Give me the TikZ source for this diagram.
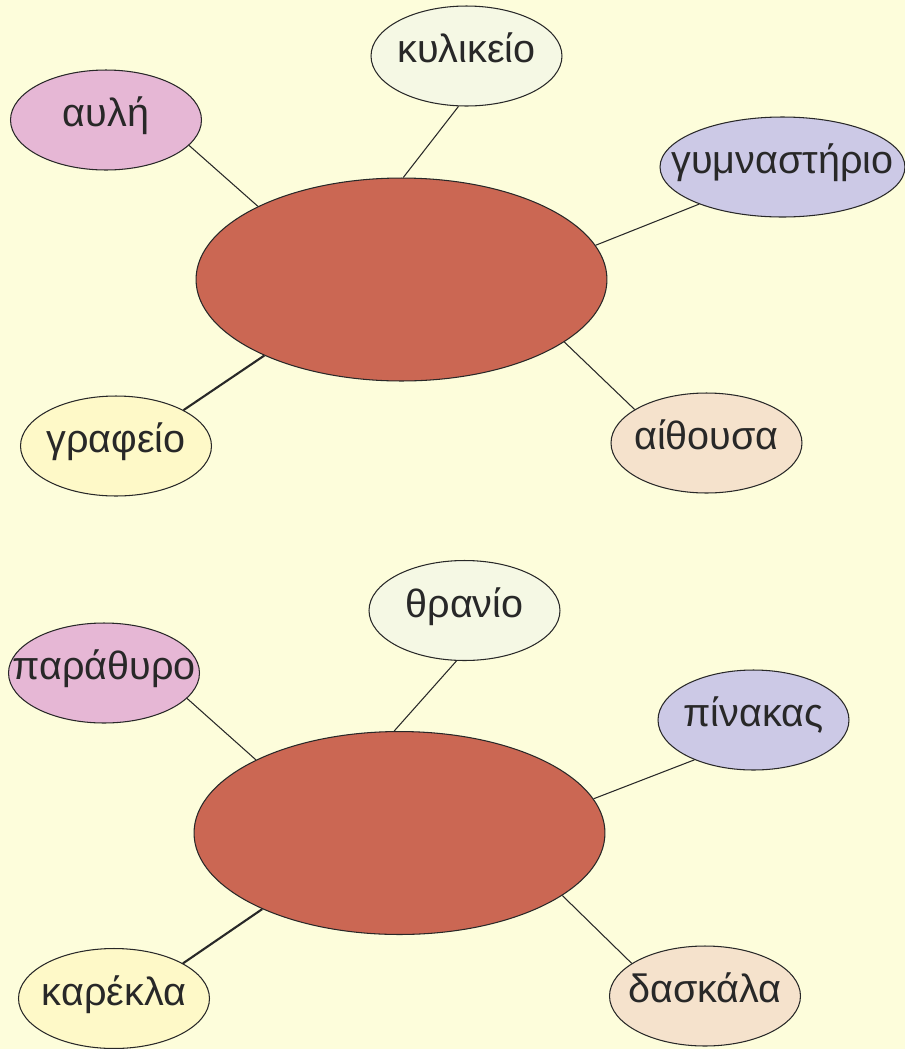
\documentclass[tikz,border=0pt]{standalone}
\usepackage{fontspec}
\setmainfont{Liberation Sans}
\usepackage{tikz}
\usetikzlibrary{
    shapes.geometric
}
\definecolor{paper}{RGB}{253,253,219}
\definecolor{hubred}{RGB}{203,103,83}
\definecolor{ink}{RGB}{40,40,40}
\definecolor{pinkish}{RGB}{230,183,213}
\definecolor{palegreen}{RGB}{245,248,228}
\definecolor{lavender}{RGB}{204,201,230}
\definecolor{paleyellow}{RGB}{254,249,200}
\definecolor{peach}{RGB}{245,226,204}
\newcommand{\elltext}[1]{\makebox[0pt]{#1}}
\tikzstyle{hub} = [
    ellipse,
    draw=ink,
    line width=0.6pt,
    fill=hubred,
    minimum width=8.22cm,
    minimum height=4.06cm,
    inner sep=0pt
]
\tikzstyle{word} = [
    ellipse,
    draw=ink,
    line width=0.6pt,
    minimum width=3.82cm,
    minimum height=2cm,
    inner sep=0pt,
    text=ink,
    text height=1.5ex,
    text depth=0pt,
    font=\fontsize{22.5}{26}\selectfont
]
\tikzstyle{link} = [
    draw=ink,
    line width=0.6pt
]
\tikzstyle{thicklink} = [
    draw=ink,
    line width=1.2pt
]
\begin{document}
\begin{tikzpicture}[x=0.02cm, y=-0.02cm]
    \path[use as bounding box, fill=paper] (0,0) rectangle (905,1049);

    % first map (top)
    \node[hub] (hub1) at (401.5,279.5) {};
    \node[word, fill=pinkish] (avli) at (106,120) {\elltext{αυλή}};
    \node[word, fill=palegreen] (kylikeio) at (466.5,56) {\elltext{κυλικείο}};
    \node[word, fill=lavender, minimum width=4.9cm] (gym) at (782.5,167) {\elltext{γυμναστήριο}};
    \node[word, fill=paleyellow] (grafeio) at (116,446) {\elltext{γραφείο}};
    \node[word, fill=peach] (aithousa) at (706.5,443) {\elltext{αίθουσα}};

    \draw[link] (avli.-17) -- (hub1.153.7);
    \draw[link] (kylikeio.-99.8) -- (hub1.89.7);
    \draw[link] (gym.204.8) -- (hub1.10.7);
    \draw[thicklink] (grafeio.28.9) -- (hub1.209.1);
    \draw[link] (aithousa.155.8) -- (hub1.-21.5);

    % second map (bottom)
    \node[hub] (hub2) at (399.5,833) {};
    \node[word, fill=pinkish] (parathyro) at (104,673) {\elltext{παράθυρο}};
    \node[word, fill=palegreen] (thranio) at (464.5,610.5) {\elltext{θρανίο}};
    \node[word, fill=lavender] (pinakas) at (753.5,720) {\elltext{πίνακας}};
    \node[word, fill=paleyellow] (karekla) at (114,998.5) {\elltext{καρέκλα}};
    \node[word, fill=peach] (daskala) at (705,996) {\elltext{δασκάλα}};

    \draw[link] (parathyro.-17) -- (hub2.153.7);
    \draw[link] (thranio.-99) -- (hub2.93);
    \draw[link] (pinakas.214.1) -- (hub2.10.5);
    \draw[thicklink] (karekla.27.9) -- (hub2.209.1);
    \draw[link] (daskala.156.6) -- (hub2.-21.3);
\end{tikzpicture}
\end{document}
